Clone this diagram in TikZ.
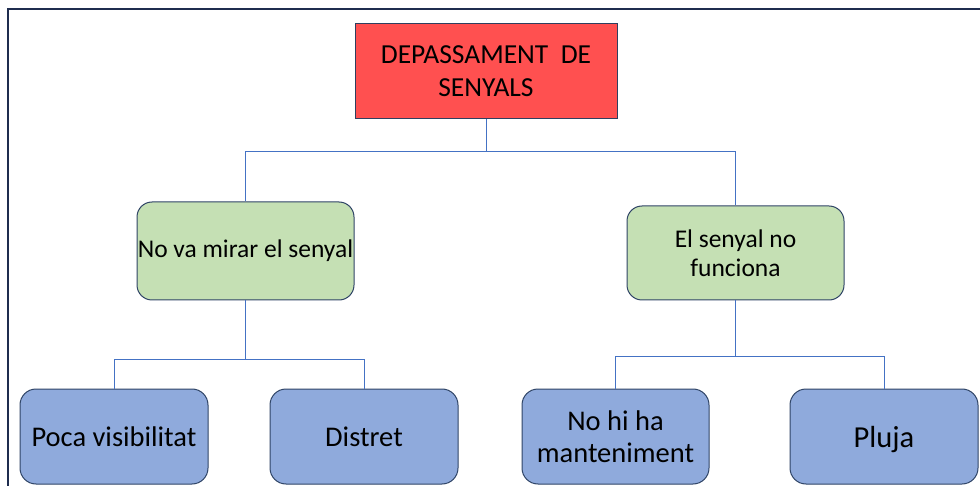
\documentclass[tikz,border=0pt]{standalone}
\usepackage{fontspec}
\setmainfont{Carlito}
\definecolor{redfill}{HTML}{FF5050}
\definecolor{redline}{HTML}{2F3F5F}
\definecolor{greenfill}{HTML}{C5E0B4}
\definecolor{bluefill}{HTML}{8FAADC}
\definecolor{boxline}{HTML}{2F4466}
\definecolor{connline}{HTML}{4472C4}
\definecolor{frameline}{HTML}{1F2D4F}
\tikzset{
  rootbox/.style={draw=redline, fill=redfill, line width=1pt, inner sep=0pt,
    minimum width=262pt, minimum height=95pt, align=center,
    font=\fontsize{27.5}{33}\selectfont},
  midbox/.style={draw=boxline, fill=greenfill, line width=1pt, inner sep=0pt,
    rounded corners=15pt, minimum width=217pt, align=center,
    font=\fontsize{25.5}{29}\selectfont},
  leafbox/.style={draw=boxline, fill=bluefill, line width=1pt, inner sep=0pt,
    rounded corners=16pt, minimum width=188pt, minimum height=95pt, align=center,
    font=\fontsize{28.5}{32}\selectfont},
  conn/.style={draw=connline, line width=1pt},
  frame/.style={draw=frameline, line width=1.4pt}
}
\begin{document}
\begin{tikzpicture}[x=1pt,y=-1pt]
\useasboundingbox (0,0) rectangle (980,486);
\draw[frame] (8,487) -- (8,9) -- (981,9);

\node[rootbox] (root) at (486,71) {DEPASSAMENT\ \ DE\\SENYALS};
\node[midbox, minimum height=98pt] (lg) at (245.5,251) {\raisebox{4pt}{No va mirar el senyal}};
\node[midbox, minimum height=94pt] (rg) at (735.5,253) {El senyal no\\funciona};

\node[leafbox] (poca) at (114,436.5) {Poca visibilitat};
\node[leafbox] (distret) at (364,436.5) {Distret};
\node[leafbox, minimum width=187pt] (manten) at (615.5,436.5) {No hi ha\\manteniment};
\node[leafbox, font=\fontsize{30.5}{34}\selectfont] (pluja) at (884,436.5) {\raisebox{-11pt}[0pt][0pt]{Pluja}};

\coordinate (j0) at (486,152);
\coordinate (j1) at (245.5,359);
\coordinate (j2) at (735.5,356);

\draw[conn] (root.south) -- (j0) -| (lg.north);
\draw[conn] (j0) -| (rg.north);
\draw[conn] (lg.south) -- (j1) -| (poca.north);
\draw[conn] (j1) -| (distret.north);
\draw[conn] (rg.south) -- (j2) -| (manten.north);
\draw[conn] (j2) -| (pluja.north);
\end{tikzpicture}
\end{document}
